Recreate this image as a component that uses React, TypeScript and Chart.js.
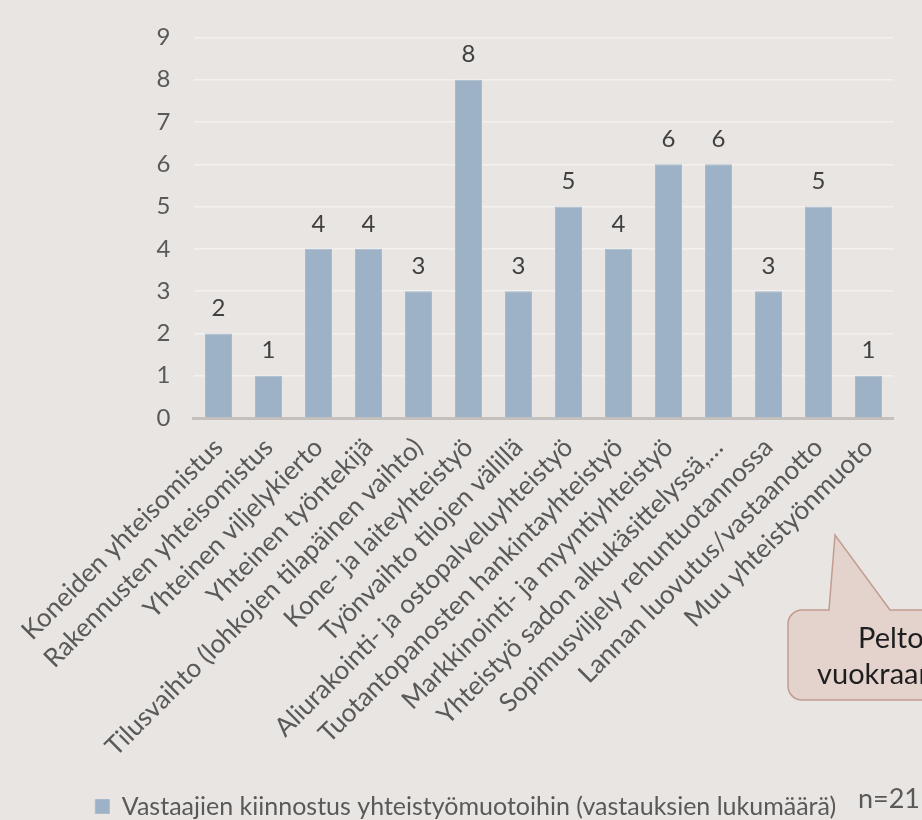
import React, { useEffect, useRef } from 'react';
import { Chart, registerables } from 'chart.js';

Chart.register(...registerables);

// ---- data ----
const categories: string[] = [
  'Koneiden yhteisomistus',
  'Rakennusten yhteisomistus',
  'Yhteinen viljelykierto',
  'Yhteinen työntekijä',
  'Tilusvaihto (lohkojen tilapäinen vaihto)',
  'Kone- ja laiteyhteistyö',
  'Työnvaihto tilojen välillä',
  'Aliurakointi- ja ostopalveluyhteistyö',
  'Tuotantopanosten hankintayhteistyö',
  'Markkinointi- ja myyntiyhteistyö',
  'Yhteistyö sadon alkukäsittelyssä,…',
  'Sopimusviljely rehuntuotannossa',
  'Lannan luovutus/vastaanotto',
  'Muu yhteistyönmuoto',
];
const values: number[] = [2, 1, 4, 4, 3, 8, 3, 5, 4, 6, 6, 3, 5, 1];
const yMin = 0;
const yMax = 9;
const yStep = 1;
const seriesLabel = 'Vastaajien kiinnostus yhteistyömuotoihin (vastauksien lukumäärä)';
const sampleNote = 'n=21';
const calloutLines: string[] = ['Peltojen', 'vuokraaminen'];

// ---- styles ----
const FONT = 'Lato, "Open Sans", sans-serif';
const BG = '#e8e5e2';
const BAR = '#9db2c6';
const BAR_EDGE = '#a9bccd';
const TEXT = '#595959';
const LABEL = '#404040';

const dataLabelPlugin = {
  id: 'dataLabels',
  afterDatasetsDraw(chart: any) {
    const ctx = chart.ctx;
    const meta = chart.getDatasetMeta(0);
    ctx.save();
    ctx.font = `24px ${FONT}`;
    ctx.fillStyle = LABEL;
    ctx.textAlign = 'center';
    ctx.textBaseline = 'middle';
    meta.data.forEach((bar: any, i: number) => {
      ctx.fillText(String(values[i]), bar.x, bar.y - 25);
    });
    ctx.restore();
  },
};

const legendShiftPlugin = {
  id: 'legendShift',
  afterLayout(chart: any) {
    if (chart.legend) {
      chart.legend.left += 19;
      chart.legend.right += 19;
    }
  },
};

const notePlugin = {
  id: 'note',
  afterDraw(chart: any) {
    const ctx = chart.ctx;
    ctx.save();
    ctx.font = `27px ${FONT}`;
    ctx.fillStyle = TEXT;
    ctx.textAlign = 'right';
    ctx.textBaseline = 'middle';
    ctx.fillText(sampleNote, 920, 799);
    ctx.restore();
  },
};

const calloutPlugin = {
  id: 'callout',
  afterDraw(chart: any) {
    const ctx = chart.ctx;
    const left = 788, top = 610, right = 1010, bottom = 700, r = 14;
    ctx.save();
    ctx.beginPath();
    ctx.moveTo(left + r, top);
    ctx.lineTo(829, top);
    ctx.lineTo(835, 535);
    ctx.lineTo(890, top);
    ctx.lineTo(right - r, top);
    ctx.arcTo(right, top, right, top + r, r);
    ctx.lineTo(right, bottom - r);
    ctx.arcTo(right, bottom, right - r, bottom, r);
    ctx.lineTo(left + r, bottom);
    ctx.arcTo(left, bottom, left, bottom - r, r);
    ctx.lineTo(left, top + r);
    ctx.arcTo(left, top, left + r, top, r);
    ctx.closePath();
    ctx.fillStyle = '#e4d3cd';
    ctx.fill();
    ctx.strokeStyle = '#c29c90';
    ctx.lineWidth = 1.5;
    ctx.stroke();
    ctx.font = `29px ${FONT}`;
    ctx.fillStyle = '#1e1e1e';
    ctx.textAlign = 'left';
    ctx.textBaseline = 'middle';
    ctx.fillText(calloutLines[0], 858, 639);
    ctx.fillText(calloutLines[1], 817, 675);
    ctx.restore();
  },
};

export default function App() {
  const ref = useRef<HTMLCanvasElement | null>(null);

  useEffect(() => {
    if (!ref.current) return;
    const chart = new Chart(ref.current, {
      type: 'bar',
      data: {
        labels: categories,
        datasets: [
          {
            label: seriesLabel,
            data: values,
            backgroundColor: BAR,
            borderColor: BAR_EDGE,
            borderWidth: 1,
            barPercentage: 0.54,
            categoryPercentage: 1,
          },
        ],
      },
      options: {
        responsive: false,
        animation: false,
        layout: { padding: { top: 19, right: 28.5, left: 0, bottom: -9 } },
        plugins: {
          legend: {
            position: 'bottom',
            align: 'center',
            labels: {
              boxWidth: 14,
              boxHeight: 14,
              padding: 6,
              color: TEXT,
              font: { family: FONT, size: 25 },
            },
          },
          tooltip: { enabled: false },
        },
        scales: {
          x: {
            grid: { display: false },
            border: { display: true, color: '#c3c0bd', width: 3 },
            ticks: {
              autoSkip: false,
              minRotation: 45,
              maxRotation: 45,
              padding: 6,
              color: TEXT,
              font: { family: FONT, size: 26 },
            },
            afterFit(scale: any) {
              scale.height = 370;
            },
          },
          y: {
            min: yMin,
            max: yMax,
            grid: { color: '#f3f1ef', lineWidth: 1.5, drawTicks: false },
            border: { display: false },
            ticks: {
              stepSize: yStep,
              padding: 23,
              color: TEXT,
              font: { family: FONT, size: 24 },
            },
            afterFit(scale: any) {
              scale.width = 193.5;
            },
          },
        },
      },
      plugins: [dataLabelPlugin, legendShiftPlugin, notePlugin, calloutPlugin],
    });
    return () => chart.destroy();
  }, []);

  return (
    <div
      style={{
        position: 'fixed',
        left: 0,
        top: 0,
        width: 922,
        height: 820,
        overflow: 'hidden',
        background: BG,
      }}
    >
      <canvas ref={ref} width={922} height={820} style={{ display: 'block' }} />
    </div>
  );
}
